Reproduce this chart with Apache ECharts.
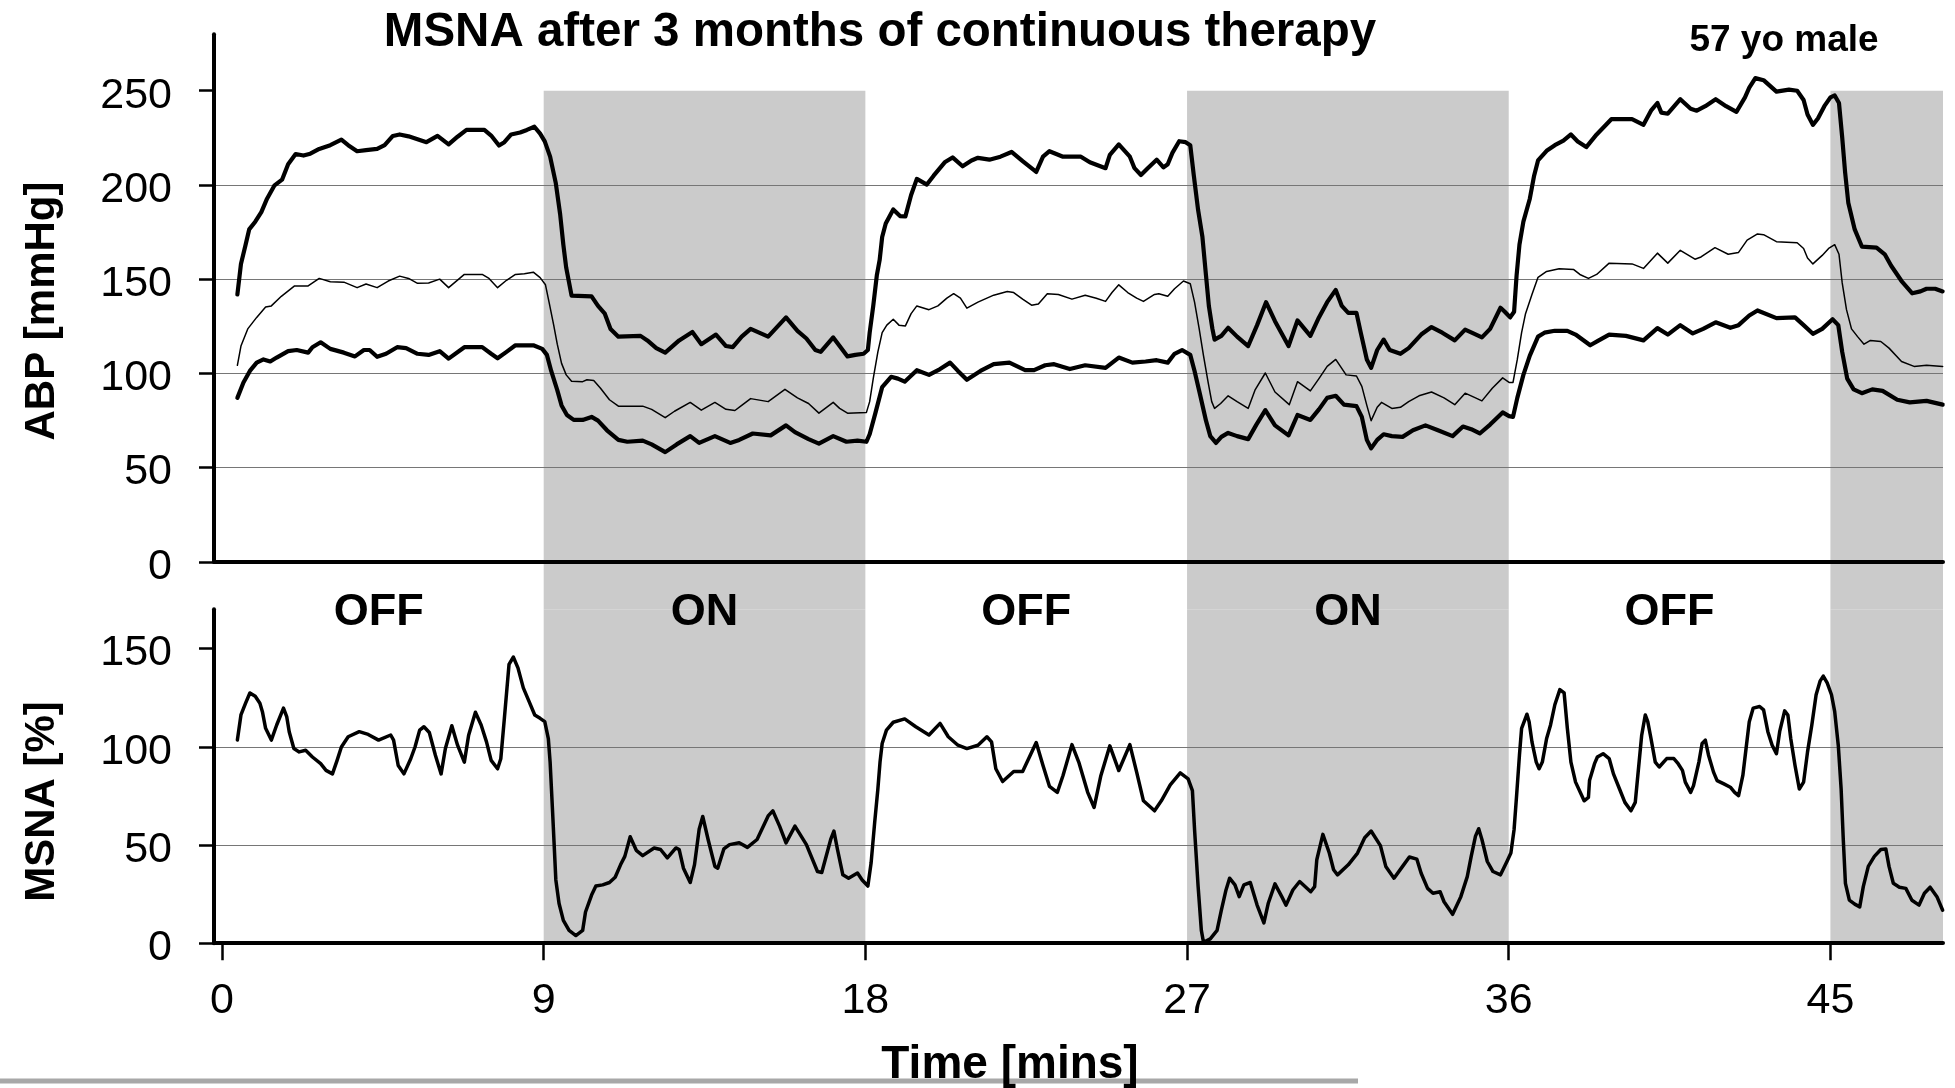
<!DOCTYPE html>
<html>
<head>
<meta charset="utf-8">
<script src="https://cdn.jsdelivr.net/npm/echarts@6/dist/echarts.min.js"></script>
<style>
  html, body { margin: 0; padding: 0; background: #fff; }
  #chart { width: 1955px; height: 1088px; }
</style>
</head>
<body>
<div id="chart"></div>
<script>
// Time axis (minutes) and phase layout
const timeTicks = [0, 9, 18, 27, 36, 45];
const abpTicks = [0, 50, 100, 150, 200, 250];
const msnaTicks = [0, 50, 100, 150];
const phaseStart = [-0.224, 9, 18, 27, 36, 45];
const phaseEnd = [9, 18, 27, 36, 45, 48.15];
const phaseState = ['OFF', 'ON', 'OFF', 'ON', 'OFF', 'ON'];
const phaseLabel = ['OFF', 'ON', 'OFF', 'ON', 'OFF', ''];

// Arterial blood pressure [min, mmHg]
const systolic = [[0.43,141.9],[0.53,158.1],[0.66,168.3],[0.76,176.4],[0.93,180.5],[1.10,185.6],[1.26,192.7],[1.47,199.8],[1.68,202.8],[1.85,211.0],[2.06,216.4],[2.28,215.6],[2.47,216.6],[2.72,219.1],[3.03,221.1],[3.34,224.0],[3.53,221.1],[3.78,217.9],[4.03,218.5],[4.34,219.1],[4.55,221.1],[4.78,226.0],[4.97,226.8],[5.22,225.8],[5.47,224.2],[5.72,222.7],[6.03,226.0],[6.34,221.5],[6.59,225.6],[6.84,229.2],[7.34,229.2],[7.53,226.2],[7.75,220.9],[7.90,222.7],[8.09,226.8],[8.34,227.8],[8.53,229.2],[8.74,230.9],[8.90,227.2],[9.03,223.1],[9.18,215.0],[9.34,200.8],[9.46,184.5],[9.55,168.3],[9.63,156.1],[9.78,141.3],[10.34,140.9],[10.52,135.8],[10.71,131.7],[10.87,123.6],[11.09,119.5],[11.71,119.9],[11.90,117.5],[12.15,113.4],[12.40,111.0],[12.79,117.5],[13.16,122.0],[13.41,115.5],[13.82,120.6],[14.10,114.5],[14.29,113.9],[14.54,119.5],[14.79,123.6],[15.28,119.5],[15.78,129.7],[16.10,122.6],[16.35,118.5],[16.60,112.4],[16.75,111.4],[17.10,119.1],[17.28,114.5],[17.50,109.0],[17.72,109.8],[17.95,110.4],[18.07,112.4],[18.12,121.6],[18.22,135.8],[18.32,152.0],[18.40,160.2],[18.47,172.4],[18.57,179.5],[18.78,187.0],[18.97,183.5],[19.12,183.3],[19.28,194.7],[19.44,203.2],[19.72,200.2],[19.91,204.9],[20.22,212.0],[20.44,214.6],[20.72,209.9],[20.97,213.0],[21.15,214.4],[21.47,213.4],[21.78,215.0],[22.09,217.5],[22.40,212.6],[22.78,206.9],[22.97,215.0],[23.15,217.9],[23.53,215.0],[24.03,215.0],[24.28,212.0],[24.72,208.9],[24.84,216.0],[25.09,221.5],[25.40,215.0],[25.53,208.9],[25.71,205.3],[25.90,208.9],[26.15,213.4],[26.34,209.3],[26.46,211.0],[26.59,217.0],[26.78,223.2],[26.96,222.7],[27.09,221.1],[27.19,204.9],[27.31,186.6],[27.43,172.4],[27.53,152.0],[27.61,135.8],[27.71,123.6],[27.77,117.9],[27.96,119.9],[28.15,124.2],[28.40,119.5],[28.71,114.5],[28.96,125.6],[29.21,137.8],[29.46,127.7],[29.84,114.5],[30.09,128.1],[30.45,119.9],[30.69,129.7],[30.92,137.8],[31.16,144.3],[31.33,135.8],[31.51,132.1],[31.74,132.1],[31.86,121.6],[32.03,107.4],[32.15,102.9],[32.32,112.4],[32.50,117.9],[32.67,112.4],[32.97,110.4],[33.20,113.4],[33.55,120.6],[33.84,124.6],[34.14,121.6],[34.49,117.5],[34.78,123.2],[35.01,121.2],[35.25,119.1],[35.48,123.6],[35.77,134.8],[35.89,132.7],[36.04,129.7],[36.15,132.7],[36.22,152.0],[36.30,168.3],[36.41,180.5],[36.59,192.7],[36.71,204.9],[36.82,213.0],[37.06,218.1],[37.29,221.1],[37.53,223.5],[37.74,226.8],[37.93,223.1],[38.17,220.1],[38.46,226.8],[38.87,234.9],[39.45,234.9],[39.77,231.9],[39.98,239.4],[40.16,243.5],[40.27,238.4],[40.45,237.8],[40.80,245.5],[41.09,240.4],[41.26,239.4],[41.50,241.8],[41.79,245.5],[42.08,241.8],[42.37,238.8],[42.61,246.5],[42.73,251.6],[42.90,256.7],[43.13,255.6],[43.49,249.5],[43.84,250.6],[44.07,250.0],[44.25,245.1],[44.36,237.4],[44.51,231.9],[44.65,235.3],[44.83,241.8],[45.00,246.5],[45.12,247.5],[45.24,243.5],[45.33,225.2],[45.41,206.9],[45.50,190.6],[45.68,176.4],[45.88,167.3],[46.29,166.7],[46.52,163.2],[46.70,157.1],[46.99,149.0],[47.29,142.5],[47.52,143.5],[47.69,144.9],[47.93,144.9],[48.14,143.5]];

const meanPressure = [[0.43,104.3],[0.53,114.5],[0.72,123.6],[0.97,129.7],[1.22,135.2],[1.38,135.8],[1.66,140.9],[2.03,146.4],[2.41,146.4],[2.72,150.4],[3.03,148.6],[3.41,148.4],[3.78,145.5],[4.03,147.4],[4.34,145.5],[4.65,149.0],[4.97,151.6],[5.22,150.4],[5.47,147.8],[5.78,148.0],[6.09,150.0],[6.34,145.5],[6.78,152.5],[7.28,152.5],[7.47,150.4],[7.71,145.5],[7.96,149.4],[8.21,152.5],[8.46,152.9],[8.71,153.7],[8.90,150.8],[9.05,147.0],[9.15,137.8],[9.28,125.6],[9.38,115.5],[9.50,105.3],[9.63,99.2],[9.78,95.8],[10.09,95.6],[10.21,96.6],[10.40,96.2],[10.59,92.1],[10.84,86.0],[11.09,82.6],[11.77,82.6],[12.02,80.9],[12.40,76.5],[12.66,79.9],[13.10,84.6],[13.41,80.5],[13.79,84.6],[14.10,80.9],[14.35,80.3],[14.54,83.0],[14.79,86.6],[15.28,85.0],[15.75,91.5],[16.10,87.0],[16.41,84.0],[16.70,78.9],[17.10,84.6],[17.28,81.4],[17.50,78.9],[18.03,79.3],[18.12,85.0],[18.22,97.2],[18.35,111.4],[18.47,121.6],[18.60,125.6],[18.78,128.7],[18.94,125.6],[19.12,125.2],[19.28,131.7],[19.44,135.8],[19.78,133.8],[20.03,135.8],[20.28,139.9],[20.47,142.3],[20.66,139.9],[20.84,134.6],[21.15,137.8],[21.59,141.5],[21.97,143.5],[22.15,142.9],[22.40,139.4],[22.65,136.2],[22.84,136.8],[23.09,142.3],[23.40,141.9],[23.78,139.4],[24.15,141.5],[24.46,139.9],[24.72,138.2],[24.90,142.9],[25.09,147.0],[25.34,142.9],[25.59,139.9],[25.78,138.2],[26.09,141.9],[26.21,142.3],[26.46,140.9],[26.65,144.9],[26.90,149.0],[27.09,147.6],[27.21,137.8],[27.34,123.6],[27.46,109.4],[27.59,95.2],[27.69,85.0],[27.77,81.4],[27.94,84.0],[28.15,88.1],[28.40,85.0],[28.71,81.4],[28.90,91.1],[29.19,100.2],[29.46,90.1],[29.86,83.4],[30.09,95.6],[30.45,90.7],[30.69,97.2],[30.92,103.7],[31.16,107.4],[31.45,99.2],[31.74,98.6],[31.89,93.1],[32.03,83.0],[32.15,74.9],[32.32,82.0],[32.44,84.6],[32.73,81.4],[32.97,82.0],[33.20,85.0],[33.49,88.1],[33.84,90.1],[34.19,87.0],[34.49,83.4],[34.78,89.5],[35.07,87.0],[35.25,85.4],[35.54,92.1],[35.83,97.6],[36.01,95.2],[36.12,95.2],[36.24,107.4],[36.36,121.6],[36.47,131.7],[36.65,141.9],[36.82,151.0],[37.06,154.1],[37.41,155.5],[37.82,155.1],[37.99,152.5],[38.23,150.4],[38.46,152.5],[38.81,158.5],[39.45,158.1],[39.77,155.7],[40.16,163.8],[40.45,158.5],[40.80,165.3],[41.21,160.6],[41.38,161.8],[41.77,166.7],[42.14,163.2],[42.43,164.2],[42.67,170.7],[42.96,174.0],[43.13,173.6],[43.49,169.9],[44.07,169.3],[44.25,166.3],[44.36,161.2],[44.51,158.1],[44.77,162.6],[44.95,166.3],[45.12,168.3],[45.24,163.2],[45.33,148.0],[45.45,133.8],[45.59,123.6],[45.76,119.5],[45.94,115.5],[46.12,117.5],[46.41,116.9],[46.64,113.4],[46.99,106.3],[47.34,103.7],[47.69,104.3],[48.14,103.7]];

const diastolic = [[0.43,87.0],[0.60,95.2],[0.78,101.3],[0.97,105.7],[1.16,107.4],[1.35,106.3],[1.53,108.4],[1.85,111.8],[2.09,112.4],[2.41,111.0],[2.53,113.9],[2.76,116.5],[3.03,113.0],[3.41,111.0],[3.72,109.0],[3.97,112.4],[4.13,112.4],[4.34,108.8],[4.59,110.4],[4.90,113.9],[5.15,113.4],[5.47,110.4],[5.78,109.8],[6.09,111.8],[6.34,107.8],[6.78,113.9],[7.28,113.9],[7.53,110.4],[7.71,108.0],[7.96,111.4],[8.21,114.9],[8.71,114.9],[8.96,113.0],[9.09,109.8],[9.21,101.3],[9.38,91.1],[9.50,83.0],[9.65,77.9],[9.84,75.3],[10.09,75.3],[10.34,76.9],[10.52,74.9],[10.77,69.8],[11.09,64.7],[11.34,63.7],[11.77,64.3],[12.02,62.3],[12.40,58.2],[12.72,62.3],[13.10,66.7],[13.35,63.1],[13.79,66.7],[14.22,63.1],[14.47,64.7],[14.85,68.1],[15.35,67.1],[15.78,72.4],[16.03,68.8],[16.41,65.1],[16.70,62.7],[17.10,66.7],[17.47,63.7],[17.78,64.3],[18.03,63.7],[18.12,67.7],[18.28,78.9],[18.47,92.7],[18.72,98.2],[18.91,97.2],[19.10,95.6],[19.44,101.7],[19.78,99.2],[20.09,102.3],[20.37,105.7],[20.59,101.3],[20.84,96.6],[21.22,101.3],[21.59,104.9],[22.03,105.7],[22.47,101.7],[22.72,101.7],[23.03,104.3],[23.28,104.9],[23.72,102.3],[24.15,104.3],[24.72,102.9],[25.09,108.4],[25.47,105.7],[25.84,106.3],[26.15,107.0],[26.46,105.7],[26.65,110.4],[26.86,112.4],[27.09,109.8],[27.21,101.3],[27.36,89.1],[27.53,74.9],[27.65,66.7],[27.81,63.1],[27.96,66.3],[28.15,68.4],[28.40,66.7],[28.71,65.1],[28.94,72.8],[29.19,80.5],[29.46,72.4],[29.84,67.1],[30.09,77.9],[30.45,75.3],[30.69,80.9],[30.92,87.0],[31.16,88.1],[31.39,83.4],[31.74,82.6],[31.89,76.9],[32.03,64.7],[32.15,60.2],[32.32,64.7],[32.50,67.7],[32.73,66.7],[33.03,66.3],[33.32,69.8],[33.67,72.4],[34.02,69.8],[34.43,66.7],[34.72,71.8],[34.95,70.4],[35.19,68.1],[35.48,72.8],[35.83,79.3],[36.01,77.3],[36.12,76.9],[36.24,87.0],[36.41,99.2],[36.59,109.4],[36.82,119.5],[37.00,121.6],[37.29,122.6],[37.64,122.6],[37.87,120.6],[38.28,114.9],[38.52,117.5],[38.81,120.6],[39.28,119.9],[39.77,117.5],[40.16,124.0],[40.45,120.6],[40.80,125.6],[41.15,121.2],[41.44,123.6],[41.79,127.1],[42.20,124.2],[42.43,125.6],[42.73,130.7],[42.96,133.4],[43.49,129.3],[44.01,129.7],[44.25,125.6],[44.51,121.0],[44.77,123.6],[45.06,128.7],[45.22,125.6],[45.33,111.4],[45.47,97.2],[45.65,91.5],[45.88,89.5],[46.17,91.5],[46.46,90.7],[46.87,86.0],[47.22,84.6],[47.69,85.4],[48.14,83.4]];

// Muscle sympathetic nerve activity [min, %]
const msna = [[0.43,103.4],[0.53,116.2],[0.66,122.2],[0.78,127.4],[0.93,125.7],[1.06,122.2],[1.13,117.9],[1.22,109.4],[1.38,103.4],[1.53,111.1],[1.72,119.7],[1.81,115.4],[1.88,107.7],[2.01,99.1],[2.16,97.4],[2.34,98.2],[2.53,94.8],[2.76,91.4],[2.91,88.0],[3.09,86.2],[3.22,93.1],[3.34,99.9],[3.53,105.1],[3.84,107.7],[4.09,106.3],[4.38,103.4],[4.72,106.0],[4.80,103.4],[4.93,90.5],[5.09,86.2],[5.28,93.9],[5.40,99.9],[5.53,108.5],[5.65,110.2],[5.80,107.3],[5.97,95.7],[6.13,86.2],[6.25,99.1],[6.43,110.7],[6.59,100.8],[6.78,92.2],[6.90,105.9],[7.09,117.6],[7.25,111.1],[7.40,102.5],[7.53,93.1],[7.71,88.8],[7.80,93.9],[7.90,114.5],[8.03,141.9],[8.15,145.7],[8.28,140.2],[8.43,130.0],[8.59,123.1],[8.75,116.2],[8.90,114.5],[9.03,112.8],[9.13,104.2],[9.18,92.2],[9.25,66.5],[9.34,32.2],[9.43,20.2],[9.55,11.6],[9.71,6.5],[9.90,3.9],[10.09,6.5],[10.17,15.9],[10.34,24.5],[10.46,29.1],[10.65,29.7],[10.84,30.9],[11.00,33.6],[11.15,39.9],[11.27,44.2],[11.42,54.2],[11.59,47.3],[11.77,44.6],[12.09,48.5],[12.27,47.7],[12.46,43.4],[12.70,48.5],[12.79,47.7],[12.91,38.2],[13.10,30.9],[13.22,40.0],[13.35,58.0],[13.45,64.5],[13.60,52.8],[13.79,39.1],[13.87,38.2],[14.04,48.0],[14.20,50.2],[14.47,51.1],[14.70,48.8],[14.97,52.8],[15.28,64.8],[15.41,67.4],[15.60,59.6],[15.78,51.1],[16.03,59.6],[16.35,50.2],[16.66,36.5],[16.78,36.0],[17.03,52.8],[17.12,57.1],[17.22,47.7],[17.37,34.8],[17.53,33.1],[17.78,35.7],[17.91,32.2],[18.07,29.1],[18.16,40.8],[18.26,61.4],[18.35,78.5],[18.41,92.2],[18.47,101.7],[18.59,108.5],[18.78,112.5],[19.10,114.2],[19.41,110.2],[19.78,106.0],[20.09,111.9],[20.32,105.1],[20.59,100.8],[20.84,99.1],[21.15,100.8],[21.40,105.1],[21.53,102.5],[21.65,88.8],[21.84,82.3],[22.15,87.4],[22.40,87.4],[22.59,94.8],[22.78,102.2],[22.97,90.5],[23.15,79.9],[23.37,76.8],[23.53,85.4],[23.78,101.1],[23.97,92.2],[24.22,76.8],[24.40,69.1],[24.59,85.4],[24.84,100.5],[25.09,87.9],[25.40,101.1],[25.59,87.1],[25.78,72.5],[26.09,67.4],[26.28,72.5],[26.53,80.6],[26.81,86.7],[27.03,83.7],[27.15,77.7],[27.21,58.0],[27.31,28.8],[27.40,6.5],[27.46,0.5],[27.65,2.2],[27.84,6.5],[27.96,16.8],[28.09,27.1],[28.19,33.1],[28.34,29.7],[28.46,23.7],[28.59,29.7],[28.77,30.9],[28.96,19.4],[29.15,10.3],[29.27,20.2],[29.46,30.2],[29.65,23.7],[29.77,19.4],[29.96,27.1],[30.15,31.4],[30.46,26.2],[30.57,28.8],[30.63,42.5],[30.80,55.4],[30.98,45.9],[31.10,37.4],[31.21,34.8],[31.51,39.9],[31.77,45.9],[31.97,53.7],[32.15,57.1],[32.41,49.7],[32.56,39.1],[32.79,33.1],[33.03,39.1],[33.22,43.9],[33.43,42.8],[33.55,35.6],[33.73,27.9],[33.88,25.4],[34.08,26.2],[34.19,21.1],[34.43,14.7],[34.66,23.7],[34.84,33.9],[34.95,44.2],[35.07,54.5],[35.16,58.3],[35.25,52.8],[35.40,41.6],[35.56,36.5],[35.77,34.8],[35.95,41.6],[36.06,45.9],[36.15,57.9],[36.22,75.1],[36.30,95.7],[36.36,109.4],[36.45,113.7],[36.51,116.6],[36.57,112.8],[36.65,102.5],[36.77,92.2],[36.85,88.8],[36.94,92.2],[37.06,104.2],[37.17,111.1],[37.29,121.4],[37.43,129.1],[37.55,127.4],[37.64,109.4],[37.74,92.2],[37.87,82.0],[38.11,72.5],[38.23,74.2],[38.26,82.8],[38.40,91.4],[38.48,94.8],[38.64,96.5],[38.81,94.0],[38.93,86.2],[39.10,78.5],[39.25,71.7],[39.42,67.4],[39.54,71.7],[39.63,88.8],[39.72,105.9],[39.82,116.2],[39.89,112.8],[39.98,104.2],[40.10,92.2],[40.21,89.7],[40.42,94.0],[40.62,94.0],[40.74,91.4],[40.86,88.0],[40.94,82.0],[41.09,76.8],[41.17,80.2],[41.32,92.2],[41.41,101.7],[41.50,103.4],[41.59,95.7],[41.73,87.1],[41.83,82.8],[42.02,81.1],[42.20,79.4],[42.32,76.8],[42.43,75.1],[42.55,85.4],[42.64,99.1],[42.73,112.8],[42.84,119.7],[43.02,120.5],[43.13,118.8],[43.25,107.7],[43.37,100.8],[43.49,96.5],[43.58,107.7],[43.72,118.3],[43.81,116.2],[43.89,104.2],[44.01,90.5],[44.13,78.5],[44.25,82.0],[44.36,97.4],[44.48,111.1],[44.60,126.5],[44.71,133.4],[44.80,136.0],[44.91,132.5],[45.03,126.5],[45.12,117.9],[45.22,100.8],[45.30,78.5],[45.36,52.8],[45.42,30.5],[45.53,21.9],[45.68,19.9],[45.82,18.5],[45.92,28.8],[46.06,39.1],[46.23,44.2],[46.41,47.7],[46.55,48.0],[46.64,39.1],[46.76,30.5],[46.93,28.5],[47.11,27.9],[47.28,21.9],[47.48,19.4],[47.63,25.4],[47.79,28.5],[47.98,23.7],[48.14,16.8]];

const FONT = "'Liberation Sans', Arial, Helvetica, sans-serif";
const SHADE = '#cbcbcb';
const GRIDLINE = '#767676';
const X_MIN = phaseStart[0];
const X_MAX = phaseEnd[phaseEnd.length - 1];

// Shaded stimulation-ON periods (and optional OFF/ON captions)
function phaseAreas(yTop, withLabels) {
  const areas = [];
  for (let i = 0; i < phaseStart.length; i++) {
    const on = phaseState[i] === 'ON';
    if (!on && !withLabels) continue;
    areas.push([
      {
        xAxis: phaseStart[i], yAxis: 0,
        itemStyle: { color: on ? SHADE : 'rgba(0,0,0,0)', borderWidth: 0 },
        label: withLabels ? {
          show: phaseLabel[i] !== '', formatter: phaseLabel[i], position: 'inside',
          offset: [0, 26], color: '#000', fontFamily: FONT, fontWeight: 'bold', fontSize: 45
        } : { show: false }
      },
      { xAxis: phaseEnd[i], yAxis: yTop }
    ]);
  }
  return areas;
}

function timeAxis(gridIndex, showLabels) {
  return {
    type: 'value', gridIndex: gridIndex, min: X_MIN, max: X_MAX, z: 2,
    show: gridIndex !== 1,
    axisLine: { show: true, onZero: false, lineStyle: { color: '#000', width: 4 } },
    axisTick: showLabels ? { show: true, inside: false, length: 17, customValues: timeTicks,
      lineStyle: { color: '#000', width: 2.5 } } : { show: false },
    axisLabel: showLabels ? { show: true, customValues: timeTicks, margin: 36, color: '#000',
      fontFamily: FONT, fontSize: 43 } : { show: false },
    splitLine: { show: false }
  };
}

function valueAxis(gridIndex, max, ticks) {
  return {
    type: 'value', gridIndex: gridIndex, min: 0, max: max, interval: 50, z: 2,
    axisLine: { show: true, onZero: false, lineStyle: { color: '#000', width: 4 } },
    axisTick: { show: true, inside: false, length: 15, customValues: ticks,
      lineStyle: { color: '#000', width: 2.5 } },
    axisLabel: { show: true, customValues: ticks, margin: 42, color: '#000',
      fontFamily: FONT, fontSize: 43, verticalAlign: 'top', lineHeight: 10 },
    splitLine: { show: true, showMaxLine: false, lineStyle: { color: GRIDLINE, width: 1.2 } }
  };
}

function trace(name, data, axisIndex, width) {
  return {
    name: name, type: 'line', xAxisIndex: axisIndex, yAxisIndex: axisIndex, data: data,
    showSymbol: false, symbol: 'none', z: 3, clip: true,
    lineStyle: { color: '#000', width: width, join: 'round', cap: 'round' }
  };
}

const chart = echarts.init(document.getElementById('chart'), null, { renderer: 'canvas' });
chart.setOption({
  animation: false,
  backgroundColor: '#fff',
  grid: [
    { left: 214, right: 12, top: 34.2, bottom: 526.2, outerBoundsMode: 'none' },
    { left: 214, right: 12, top: 564, bottom: 478.7, outerBoundsMode: 'none' },
    { left: 214, right: 12, top: 609.3, bottom: 144.8, outerBoundsMode: 'none' }
  ],
  xAxis: [timeAxis(0, false), timeAxis(1, false), timeAxis(2, true)],
  yAxis: [
    valueAxis(0, 280, abpTicks),
    { type: 'value', gridIndex: 1, min: 0, max: 1, show: false },
    valueAxis(2, 170, msnaTicks)
  ],
  series: [
    { type: 'line', xAxisIndex: 0, yAxisIndex: 0, data: [], z: 1,
      markArea: { silent: true, data: phaseAreas(250, false) } },
    { type: 'line', xAxisIndex: 1, yAxisIndex: 1, data: [], z: 1,
      markArea: { silent: true, data: phaseAreas(1, true) } },
    { type: 'line', xAxisIndex: 2, yAxisIndex: 2, data: [], z: 1,
      markArea: { silent: true, data: phaseAreas(170, false) } },
    trace('Systolic', systolic, 0, 4.2),
    trace('Mean', meanPressure, 0, 1.5),
    trace('Diastolic', diastolic, 0, 4.2),
    trace('MSNA', msna, 2, 3.5)
  ],
  graphic: [
    { type: 'text', x: 880, y: 33, z: 10, style: { text: 'MSNA after 3 months of continuous therapy',
      font: 'bold 47.5px ' + FONT, fill: '#000', align: 'center', verticalAlign: 'middle' } },
    { type: 'text', x: 1784, y: 40.5, z: 10, style: { text: '57 yo male',
      font: 'bold 37px ' + FONT, fill: '#000', align: 'center', verticalAlign: 'middle' } },
    { type: 'text', x: 42.5, y: 311, rotation: Math.PI / 2, z: 10, style: { text: 'ABP [mmHg]',
      font: 'bold 42px ' + FONT, fill: '#000', align: 'center', verticalAlign: 'middle' } },
    { type: 'text', x: 42, y: 801.5, rotation: Math.PI / 2, z: 10, style: { text: 'MSNA [%]',
      font: 'bold 42px ' + FONT, fill: '#000', align: 'center', verticalAlign: 'middle' } },
    { type: 'rect', z: 5, shape: { x: 0, y: 1078.5, width: 1358, height: 5 }, style: { fill: '#a8a8a8' } },
    { type: 'text', x: 1010, y: 1065, z: 10, style: { text: 'Time [mins]',
      font: 'bold 46px ' + FONT, fill: '#000', align: 'center', verticalAlign: 'middle' } }
  ]
});
</script>
</body>
</html>
